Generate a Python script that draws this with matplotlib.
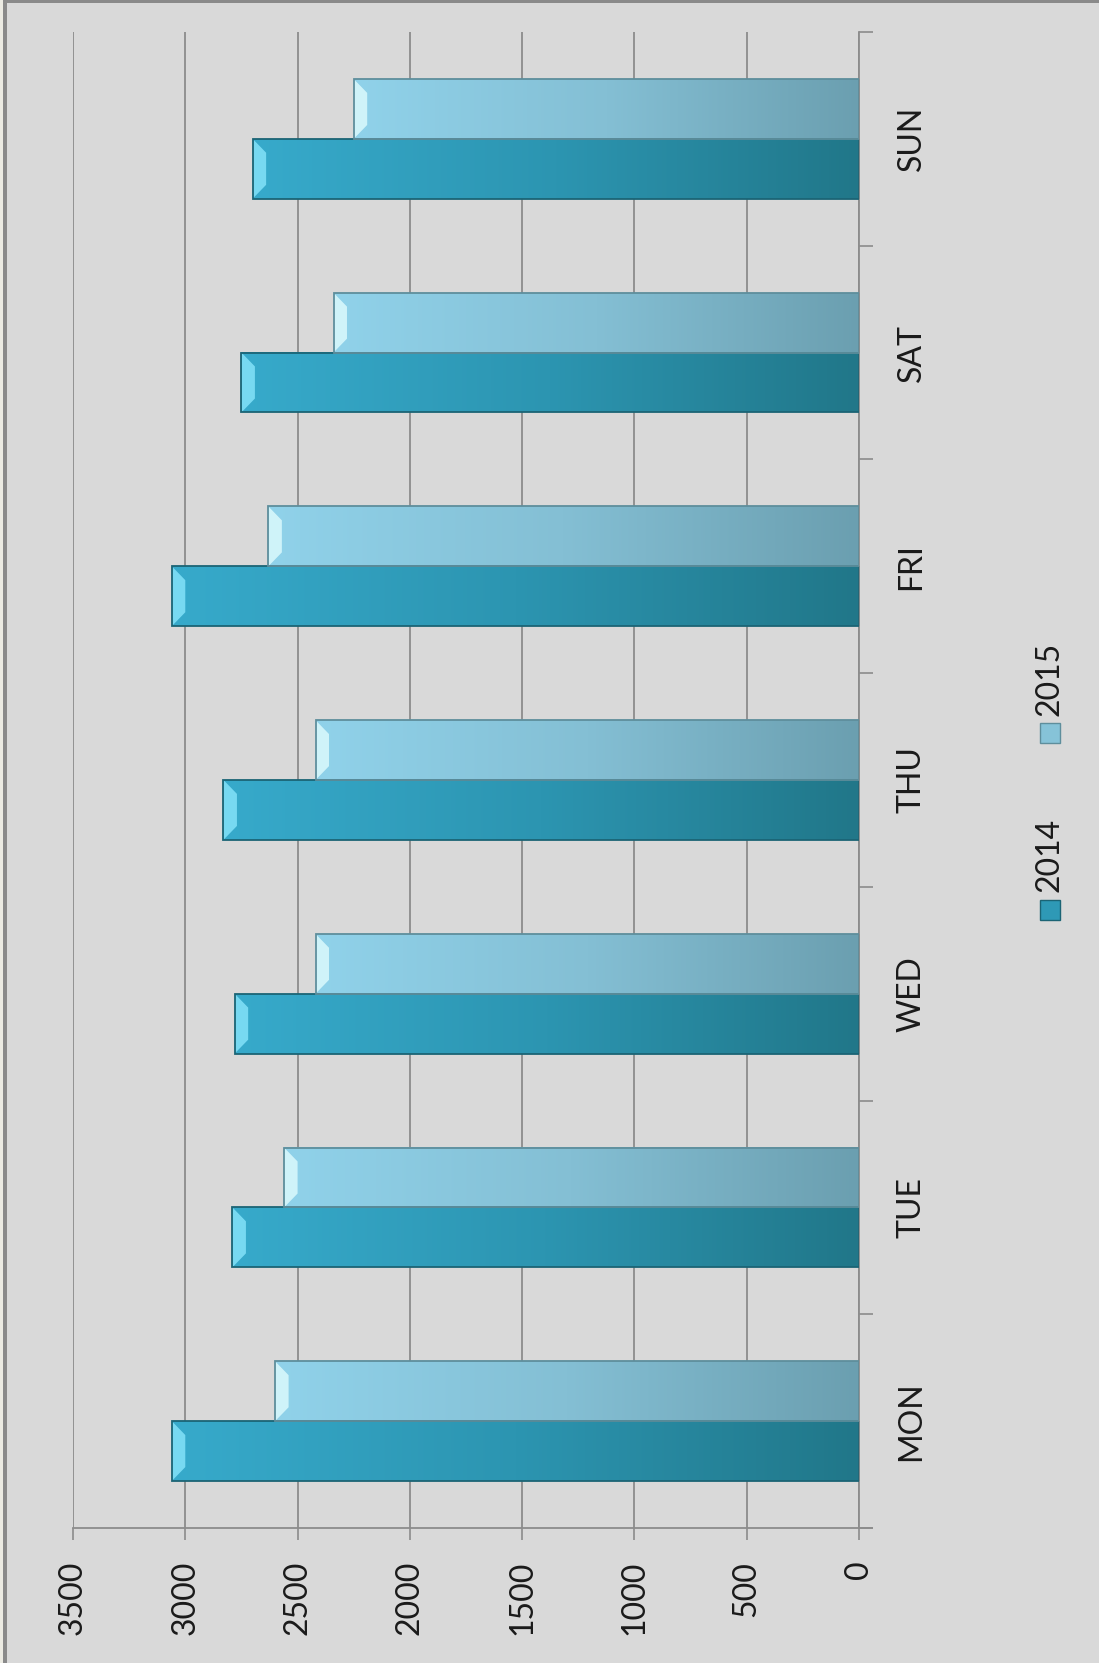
"""Rotated 2014 vs 2015 weekday bar chart."""
import matplotlib

matplotlib.use("Agg")
import matplotlib.pyplot as plt
import numpy as np
from matplotlib.colors import LinearSegmentedColormap
from matplotlib.lines import Line2D
from matplotlib.patches import Polygon, Rectangle

days = ["MON", "TUE", "WED", "THU", "FRI", "SAT", "SUN"]
series_names = ["2014", "2015"]
values_2014 = [3060, 2790, 2780, 2830, 3060, 2750, 2700]
values_2015 = [2600, 2560, 2420, 2420, 2630, 2340, 2250]
value_ticks = [0, 500, 1000, 1500, 2000, 2500, 3000, 3500]

W, H = 1099, 1663
BG = "#d9d9d9"
GRID = "#8c8c8c"

plt.rcParams["font.family"] = ["Lato", "DejaVu Sans"]

# dark end -> light end (light end sits at the bar tip)
cmaps = {
    "2014": LinearSegmentedColormap.from_list("c14", ["#217789", "#2c95b1", "#37aacb"]),
    "2015": LinearSegmentedColormap.from_list("c15", ["#6b9fb0", "#84bfd4", "#90d2ea"]),
}
edges = {"2014": "#1b6475", "2015": "#5e8e9c"}
bevels = {"2014": "#8eeaff", "2015": "#e6ffff"}

fig = plt.figure(figsize=(W / 100, H / 100), dpi=100, facecolor=BG)
ax = fig.add_axes([73 / W, 1 - 1528 / H, (859 - 73) / W, (1528 - 32) / H])
ax.set_facecolor(BG)

ax.set_xlim(3500, 0)
ax.set_ylim(-0.5, len(days) - 0.5)

bar_h = 0.28
grad = np.linspace(0, 1, 256).reshape(1, -1)
for name, vals, off in [("2014", values_2014, -bar_h / 2), ("2015", values_2015, bar_h / 2)]:
    for i, v in enumerate(vals):
        y0 = i + off - bar_h / 2
        y1 = i + off + bar_h / 2
        ax.imshow(grad, cmap=cmaps[name], extent=(0, v, y0, y1), aspect="auto",
                  interpolation="bilinear", zorder=2)
        # bevel at the bar tip
        d = 60
        e = 0.065
        ax.add_patch(Polygon([(v, y0), (v, y1), (v - d, y1 - e), (v - d, y0 + e)],
                             closed=True, facecolor=bevels[name], edgecolor="none",
                             alpha=0.75, zorder=3))
        ax.add_patch(Rectangle((0, y0), v, bar_h, facecolor="none",
                               edgecolor=edges[name], lw=1.3, zorder=4))

ax.set_xticks(value_ticks)
ax.set_xticklabels([str(t) for t in value_ticks], rotation=90, va="top", fontsize=23,
                   color="#1a1a1a")
ax.tick_params(axis="x", direction="out", length=8.6, width=1.2, color=GRID, pad=15)
ax.grid(axis="x", color=GRID, lw=1.3, zorder=1)
ax.set_axisbelow(True)

ax.yaxis.tick_right()
ax.set_yticks(range(len(days)))
ax.set_yticklabels(days, rotation=90, va="center", fontsize=23, color="#1a1a1a")
ax.set_yticks(np.arange(-0.5, len(days), 1), minor=True)
ax.tick_params(axis="y", which="major", length=0, pad=27)
ax.tick_params(axis="y", which="minor", direction="out", length=10, width=1.2, color=GRID)

for s in ["top", "left"]:
    ax.spines[s].set_visible(False)
for s in ["bottom", "right"]:
    ax.spines[s].set_color(GRID)
    ax.spines[s].set_linewidth(1.3)

# axis line runs a little past the zero line
fig.add_artist(Line2D([859 / W, 872 / W], [1 - 1528 / H] * 2, color=GRID, lw=1.3))

# legend, rotated like the rest of the chart
for name, sq_y, txt_y in [("2014", 910, 855), ("2015", 733, 679)]:
    fig.add_artist(Rectangle((1040 / W, 1 - (sq_y + 10) / H), 20 / W, 20 / H,
                             facecolor=cmaps[name](0.6), edgecolor=edges[name], lw=1))
    fig.text(1049 / W, 1 - txt_y / H, name, rotation=90, ha="center", va="center",
             fontsize=23, color="#1a1a1a")

# outer frame
fig.add_artist(Rectangle((0, 1 - 3 / H), 1, 3 / H, facecolor="#8a8a8a", edgecolor="none"))
fig.add_artist(Rectangle((0, 0), 3 / W, 1, facecolor="#ecebe3", edgecolor="none"))
fig.add_artist(Rectangle((3 / W, 0), 4 / W, 1 - 3 / H, facecolor="#8a8a8a", edgecolor="none"))

fig.savefig("out.png", dpi=100, facecolor=BG)
